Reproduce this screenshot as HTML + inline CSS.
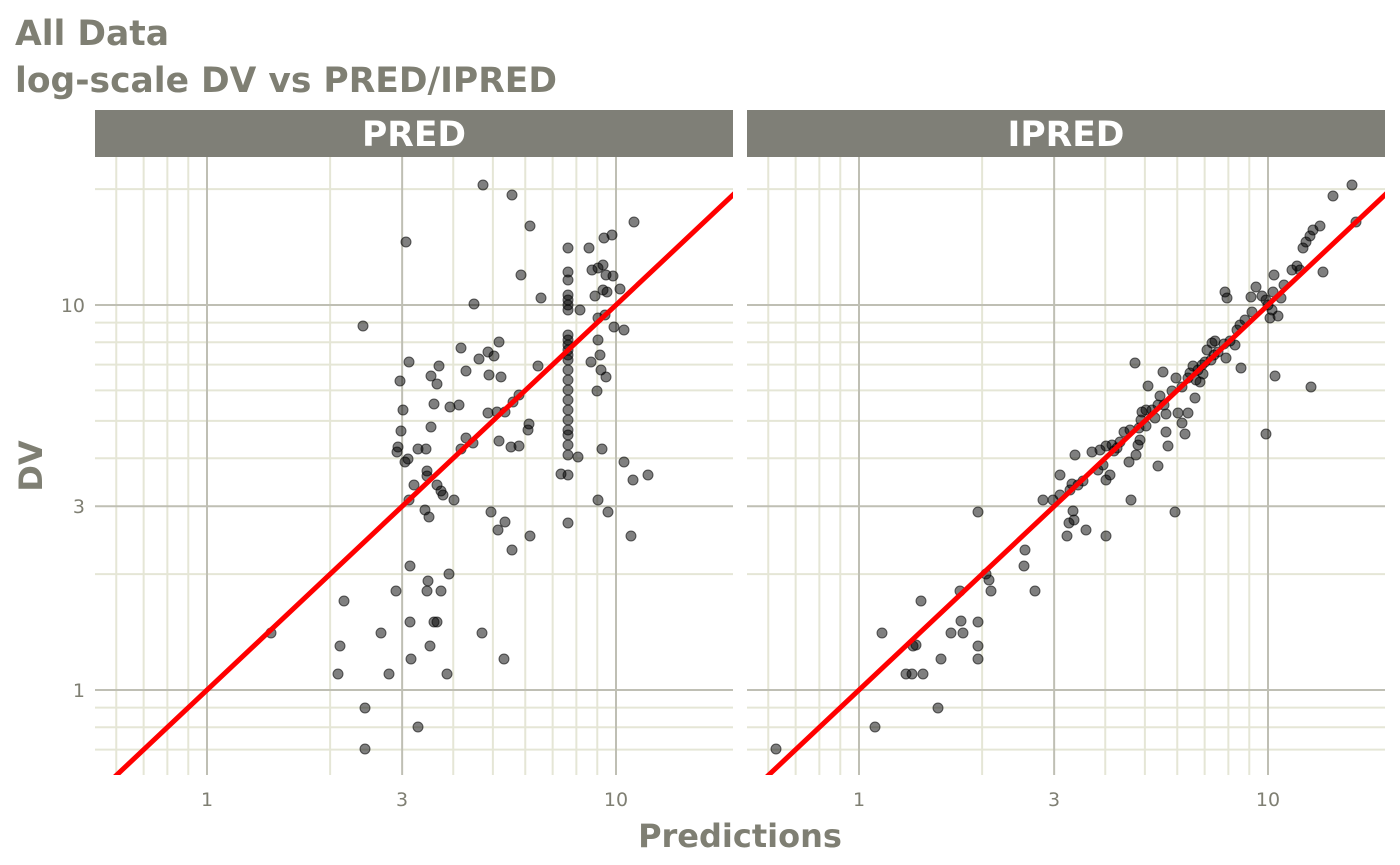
<!DOCTYPE html>
<html><head><meta charset="utf-8"><style>html,body{margin:0;padding:0;background:#fff}svg{display:block}text{font-family:"DejaVu Sans","Liberation Sans",sans-serif}</style></head>
<body>
<svg width="1400" height="865" xmlns="http://www.w3.org/2000/svg">
<defs>
<clipPath id="c1"><rect x="95" y="157" width="638" height="618"/></clipPath>
<clipPath id="c2"><rect x="747" y="157" width="638" height="618"/></clipPath>
</defs>
<text x="15" y="45" font-size="34.5" font-weight="bold" fill="#7f7f73">All Data</text>
<text x="15" y="92" font-size="34.5" font-weight="bold" fill="#7f7f73">log-scale DV vs PRED/IPRED</text>
<rect x="95" y="110" width="638" height="47" fill="#7f7f77"/>
<rect x="747" y="110" width="638" height="47" fill="#7f7f77"/>
<text x="414" y="146" font-size="34.5" font-weight="bold" fill="#fff" text-anchor="middle">PRED</text>
<text x="1066" y="146" font-size="34.5" font-weight="bold" fill="#fff" text-anchor="middle">IPRED</text>
<g id="grid"></g>
<g id="p1" clip-path="url(#c1)"></g>
<g id="p2" clip-path="url(#c2)"></g>
<text x="42" y="466" font-size="32" font-weight="bold" fill="#7f7f73" text-anchor="middle" transform="rotate(-90 42 466)">DV</text>
<text x="740" y="847" font-size="32" font-weight="bold" fill="#7f7f73" text-anchor="middle">Predictions</text>
<g font-size="19" fill="#7f7f73">
<text x="85" y="312" text-anchor="end">10</text>
<text x="85" y="513" text-anchor="end">3</text>
<text x="85" y="697" text-anchor="end">1</text>
<text x="207" y="806" text-anchor="middle">1</text>
<text x="402" y="806" text-anchor="middle">3</text>
<text x="616" y="806" text-anchor="middle">10</text>
<text x="859" y="806" text-anchor="middle">1</text>
<text x="1054" y="806" text-anchor="middle">3</text>
<text x="1268" y="806" text-anchor="middle">10</text>
</g>
</svg>
<script>
const NS="http://www.w3.org/2000/svg";
function el(p,t,a){const e=document.createElementNS(NS,t);for(const k in a)e.setAttribute(k,a[k]);p.appendChild(e);return e;}
const grid=document.getElementById('grid');
const X=(v,o)=>o+409*Math.log10(v), Y=v=>690-385*Math.log10(v);
const minors=[0.6,0.7,0.8,0.9,2,4,5,6,7,8,9,20],majors=[1,3,10];
[[95,207],[747,859]].forEach(([L,o])=>{
 minors.forEach(v=>{const x=X(v,o);if(x>L&&x<L+638)el(grid,'line',{x1:x,x2:x,y1:157,y2:775,stroke:'#e5e6d6','stroke-width':2});
  const y=Y(v);if(y>157&&y<775)el(grid,'line',{x1:L,x2:L+638,y1:y,y2:y,stroke:'#e5e6d6','stroke-width':2});});
 majors.forEach(v=>{const x=X(v,o);el(grid,'line',{x1:x,x2:x,y1:157,y2:775,stroke:'#bfbfb4','stroke-width':2});
  const y=Y(v);el(grid,'line',{x1:L,x2:L+638,y1:y,y2:y,stroke:'#bfbfb4','stroke-width':2});});
});
const P1=[[483,185],[512,195],[530,226],[634,222],[406,242],[612,235],[604,238],[589,248],[568,248],[521,275],[568,272],[568,280],[598,268],[603,265],[592,270],[606,275],[613,276],[603,290],[607,292],[620,289],[541,298],[568,295],[568,300],[568,305],[568,310],[595,296],[474,304],[580,310],[598,318],[605,315],[614,327],[624,330],[363,326],[499,342],[568,335],[568,340],[568,345],[568,350],[568,355],[568,360],[568,370],[568,380],[568,390],[568,400],[568,410],[568,420],[568,430],[568,435],[568,445],[568,455],[568,475],[598,340],[600,355],[591,362],[601,370],[606,377],[597,391],[461,348],[488,352],[494,356],[479,359],[409,362],[439,366],[466,371],[489,375],[501,377],[538,366],[431,376],[437,384],[400,381],[519,395],[513,402],[434,404],[459,405],[450,407],[403,410],[488,413],[497,412],[505,412],[529,424],[401,431],[431,427],[466,438],[473,443],[499,441],[511,447],[519,446],[461,449],[398,447],[426,449],[397,452],[408,459],[405,462],[418,449],[602,449],[624,462],[578,457],[633,480],[648,475],[561,474],[427,471],[427,476],[414,485],[437,485],[441,491],[443,495],[409,500],[454,500],[425,510],[491,512],[528,430],[429,517],[598,500],[608,512],[568,523],[505,522],[530,536],[631,536],[498,530],[512,550],[410,566],[449,574],[344,601],[396,591],[428,581],[427,591],[441,591],[410,622],[434,622],[437,622],[271,633],[381,633],[482,633],[340,646],[430,646],[411,659],[504,659],[338,674],[389,674],[447,674],[365,708],[418,727],[365,749]];
const P2=[[776,749],[875,727],[938,708],[882,633],[921,601],[913,646],[916,645],[912,674],[906,674],[923,674],[941,659],[951,633],[961,621],[963,633],[978,622],[978,646],[978,659],[960,591],[986,574],[989,580],[991,591],[978,512],[1025,550],[1024,566],[1035,591],[1067,536],[1069,523],[1074,520],[1073,511],[1086,530],[1106,536],[1043,500],[1053,500],[1060,495],[1070,490],[1072,484],[1078,485],[1060,475],[1083,481],[1075,455],[1098,470],[1103,465],[1106,480],[1110,475],[1100,450],[1106,446],[1112,445],[1117,448],[1120,442],[1124,432],[1130,430],[1129,462],[1131,500],[1136,455],[1138,445],[1139,428],[1141,420],[1140,440],[1142,412],[1146,410],[1152,410],[1155,418],[1158,405],[1160,396],[1164,405],[1166,414],[1166,432],[1158,466],[1168,446],[1172,391],[1176,378],[1182,387],[1178,413],[1188,378],[1185,434],[1190,373],[1175,512],[1195,398],[1193,366],[1198,370],[1200,382],[1203,374],[1205,362],[1211,360],[1207,350],[1214,355],[1218,352],[1224,344],[1226,358],[1230,341],[1225,292],[1227,298],[1235,345],[1237,330],[1240,325],[1245,320],[1241,368],[1252,312],[1251,297],[1256,287],[1262,296],[1266,300],[1268,305],[1272,310],[1270,318],[1273,292],[1274,275],[1281,298],[1278,316],[1275,376],[1266,434],[1284,285],[1292,270],[1297,266],[1303,248],[1300,270],[1306,242],[1310,236],[1313,230],[1320,226],[1323,272],[1311,387],[1333,196],[1352,185],[1356,222],[1163,372],[1148,386],[1135,363],[1215,341],[1212,343],[1202,365],[1196,380],[1182,423],[1188,413],[1146,426],[1092,452],[1114,451]];
[[P1,'p1',207],[P2,'p2',859]].forEach(([P,id,o])=>{const g=document.getElementById(id);
 P.forEach(([x,y])=>el(g,'circle',{cx:x,cy:y,r:5,fill:'rgba(0,0,0,0.5)',stroke:'rgba(0,0,0,0.6)','stroke-width':1}));
 el(g,'line',{x1:X(0.4,o),y1:Y(0.4),x2:X(30,o),y2:Y(30),stroke:'#ff0000','stroke-width':5});
});
</script>
</body></html>
